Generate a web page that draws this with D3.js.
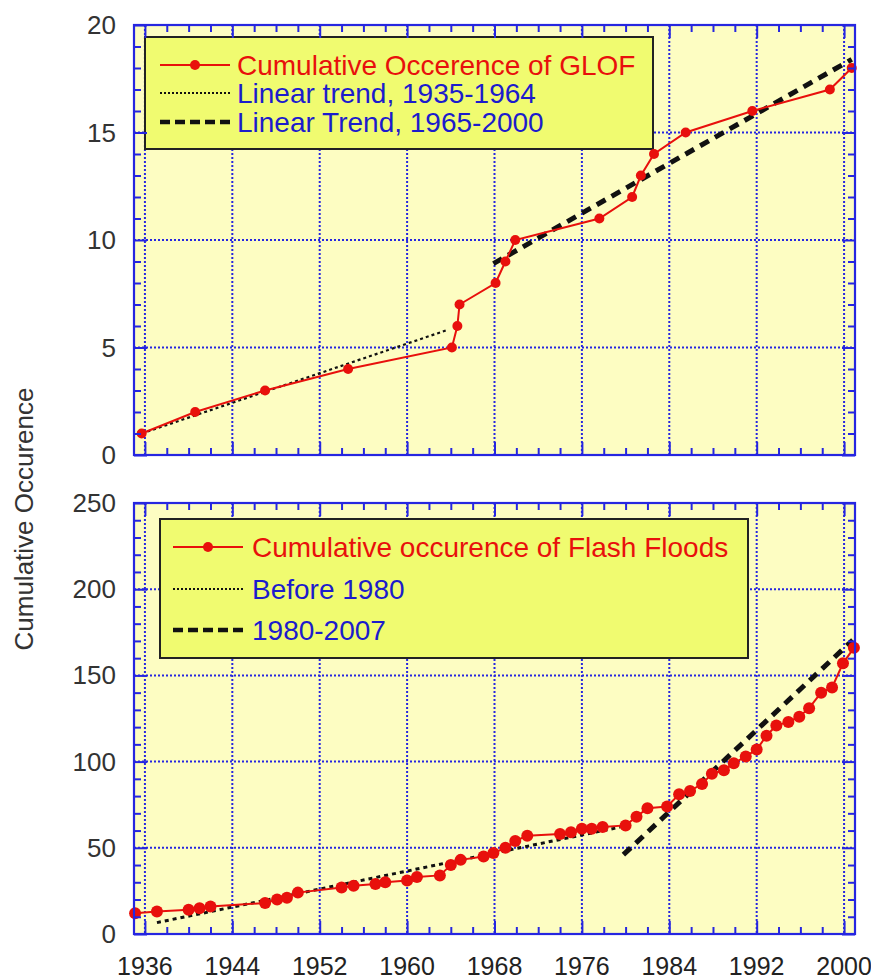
<!DOCTYPE html>
<html>
<head>
<meta charset="utf-8">
<script src="https://cdn.jsdelivr.net/npm/d3@7"></script>
<style>
  body { margin: 0; background: #fff; }
  text { font-family: "Liberation Sans", Arial, sans-serif; }
</style>
</head>
<body>
<div id="chart"></div>
<script>
// ---- data ----
var glofYears = [1935.7, 1940.6, 1947.0, 1954.6, 1964.1, 1964.6, 1964.8, 1968.1, 1969.0, 1969.9,
                 1977.6, 1980.6, 1981.4, 1982.6, 1985.5, 1991.6, 1998.7, 2000.7];
var glofCount = [1, 2, 3, 4, 5, 6, 7, 8, 9, 10, 11, 12, 13, 14, 15, 16, 17, 18];
var glofTrendEarlyYears = [1935.7, 1963.6];
var glofTrendEarlyValues = [1.0, 5.8];
var glofTrendLateYears = [1967.9, 2000.7];
var glofTrendLateValues = [8.9, 18.4];

var floodYears = [1935.1, 1937.1, 1940.0, 1941.0, 1942.0, 1947.0, 1948.1, 1949.0, 1950.0, 1954.0,
                  1955.1, 1957.1, 1958.0, 1960.0, 1960.9, 1963.0, 1964.0, 1964.9, 1967.0, 1967.9,
                  1969.0, 1969.9, 1971.0, 1974.0, 1975.0, 1976.0, 1976.9, 1977.9, 1980.0, 1981.0,
                  1982.0, 1983.8, 1984.9, 1985.9, 1987.0, 1987.9, 1989.0, 1989.9, 1991.0, 1992.0,
                  1992.9, 1993.8, 1994.9, 1995.9, 1996.8, 1997.9, 1998.9, 1999.9, 2000.9];
var floodCount = [12, 13, 14, 15, 16, 18, 20, 21, 24, 27,
                  28, 29, 30, 31, 33, 34, 40, 43, 45, 47,
                  50, 54, 57, 58, 59, 61, 61, 62, 63, 68,
                  73, 74, 81, 83, 87, 93, 95, 99, 103, 107,
                  115, 121, 123, 126, 131, 140, 143, 157, 166];
var floodTrendEarlyYears = [1937.1, 1979.5];
var floodTrendEarlyValues = [6.6, 62];
var floodTrendLateYears = [1979.8, 2000.8];
var floodTrendLateValues = [46, 170.5];

var yearTicks = [1936, 1944, 1952, 1960, 1968, 1976, 1984, 1992, 2000];
var glofTicks = [0, 5, 10, 15, 20];
var floodTicks = [0, 50, 100, 150, 200, 250];

var glofLegend = ['Cumulative Occerence of GLOF', 'Linear trend, 1935-1964', 'Linear Trend, 1965-2000'];
var floodLegend = ['Cumulative occurence of Flash Floods', 'Before 1980', '1980-2007'];
var yTitle = 'Cumulative Occurence';

// ---- drawing ----
var W = 871, H = 979;
var RED = '#e8100c', BLUE = '#2626e0', TXTBLUE = '#1c1ccc';
var svg = d3.select('#chart').append('svg').attr('width', W).attr('height', H);

var x = d3.scaleLinear().domain([1935, 2001]).range([134, 855]);
var xMinor = d3.range(1936, 2001, 2).filter(function(d){ return (d - 1936) % 8 !== 0; });

function panel(y, majors, minorStep, opts){
  var g = svg.append('g');
  var x0 = x.range()[0], x1 = x.range()[1];
  var y0 = y.range()[0], y1 = y.range()[1];
  var yMinor = d3.range(y.domain()[0], y.domain()[1] + 1e-9, minorStep)
    .filter(function(d){ return majors.indexOf(d) < 0; });

  g.append('rect').attr('x', x0).attr('y', y1).attr('width', x1 - x0).attr('height', y0 - y1)
    .attr('fill', '#fdfdc2');

  // dotted grid
  g.selectAll('.gx').data(yearTicks).enter().append('line')
    .attr('x1', x).attr('x2', x).attr('y1', y1).attr('y2', y0)
    .attr('stroke', BLUE).attr('stroke-width', 2).attr('stroke-dasharray', '2,2');
  g.selectAll('.gy').data(majors.slice(1, -1)).enter().append('line')
    .attr('x1', x0).attr('x2', x1).attr('y1', y).attr('y2', y)
    .attr('stroke', BLUE).attr('stroke-width', 2).attr('stroke-dasharray', '2,2');

  // legend box
  var L = opts.legend;
  g.append('rect').attr('x', L.x).attr('y', L.y).attr('width', L.w).attr('height', L.h)
    .attr('fill', '#f0fb70').attr('stroke', '#222').attr('stroke-width', 2);
  var styles = [
    {stroke: RED, w: 2, dash: null, col: RED, marker: true},
    {stroke: '#111', w: 1.8, dash: '2,2', col: TXTBLUE},
    {stroke: '#111', w: 4.5, dash: '10,5', col: TXTBLUE}
  ];
  opts.labels.forEach(function(lab, i){
    var cy = L.rows[i], s = styles[i];
    g.append('line').attr('x1', L.sx0).attr('x2', L.sx1).attr('y1', cy).attr('y2', cy)
      .attr('stroke', s.stroke).attr('stroke-width', s.w).attr('stroke-dasharray', s.dash);
    if (s.marker) g.append('circle').attr('cx', (L.sx0 + L.sx1) / 2).attr('cy', cy).attr('r', 5).attr('fill', RED);
    g.append('text').attr('x', L.tx).attr('y', cy + 10).attr('fill', s.col)
      .attr('font-size', 28).text(lab);
  });

  // trends
  var line = d3.line().x(function(d){ return x(d[0]); }).y(function(d){ return y(d[1]); });
  g.append('path').datum(d3.zip(opts.t1x, opts.t1y)).attr('d', line)
    .attr('fill', 'none').attr('stroke', '#111').attr('stroke-width', opts.dotW).attr('stroke-dasharray', opts.dotDash);
  g.append('path').datum(d3.zip(opts.t2x, opts.t2y)).attr('d', line)
    .attr('fill', 'none').attr('stroke', '#111').attr('stroke-width', 5).attr('stroke-dasharray', '10,7');

  // data
  var pts = d3.zip(opts.xs, opts.ys);
  g.append('path').datum(pts).attr('d', line)
    .attr('fill', 'none').attr('stroke', RED).attr('stroke-width', 2);
  g.selectAll('.pt').data(pts).enter().append('circle')
    .attr('cx', function(d){ return x(d[0]); }).attr('cy', function(d){ return y(d[1]); })
    .attr('r', opts.r).attr('fill', RED);

  // inward ticks on all four sides via d3 axes
  function ax(gen, tx, ty, vals, size){
    var a = g.append('g').attr('transform', 'translate(' + tx + ',' + ty + ')')
      .call(gen.tickValues(vals).tickSize(size).tickFormat(''));
    a.select('.domain').remove();
    a.selectAll('line').attr('stroke', BLUE).attr('stroke-width', 2);
    return a;
  }
  ax(d3.axisBottom(x), 0, y0, yearTicks, -13);
  ax(d3.axisBottom(x), 0, y0, xMinor, -7);
  ax(d3.axisTop(x), 0, y1, yearTicks, -13);
  ax(d3.axisTop(x), 0, y1, xMinor, -7);
  ax(d3.axisLeft(y), x0, 0, majors, -13);
  ax(d3.axisLeft(y), x0, 0, yMinor, -7);
  ax(d3.axisRight(y), x1, 0, majors, -13);
  ax(d3.axisRight(y), x1, 0, yMinor, -7);

  g.append('rect').attr('x', x0).attr('y', y1).attr('width', x1 - x0).attr('height', y0 - y1)
    .attr('fill', 'none').attr('stroke', BLUE).attr('stroke-width', 2.2);

  // y labels
  g.selectAll('.yl').data(majors).enter().append('text')
    .attr('x', 116).attr('y', function(d){ return y(d) + 9; })
    .attr('text-anchor', 'end').attr('font-size', 26).attr('fill', '#333')
    .text(function(d){ return d; });

  if (opts.xLabels){
    g.selectAll('.xl').data(yearTicks).enter().append('text')
      .attr('x', x).attr('y', 975)
      .attr('text-anchor', 'middle').attr('font-size', 25).attr('fill', '#222')
      .text(function(d){ return d; });
  }
}

panel(d3.scaleLinear().domain([0, 20]).range([455, 25]), glofTicks, 1, {
  xs: glofYears, ys: glofCount, r: 5,
  t1x: glofTrendEarlyYears, t1y: glofTrendEarlyValues, dotW: 2.2, dotDash: '3,3',
  t2x: glofTrendLateYears, t2y: glofTrendLateValues,
  labels: glofLegend,
  legend: {x: 145, y: 37, w: 508, h: 112, rows: [65, 93, 122], sx0: 160, sx1: 230, tx: 237},
  xLabels: false
});

panel(d3.scaleLinear().domain([0, 250]).range([934, 503]), floodTicks, 10, {
  xs: floodYears, ys: floodCount, r: 6,
  t1x: floodTrendEarlyYears, t1y: floodTrendEarlyValues, dotW: 3, dotDash: '4,4',
  t2x: floodTrendLateYears, t2y: floodTrendLateValues,
  labels: floodLegend,
  legend: {x: 160, y: 519, w: 588, h: 139, rows: [547, 589, 630], sx0: 173, sx1: 243, tx: 252},
  xLabels: true
});

svg.append('text')
  .attr('transform', 'translate(33,519) rotate(-90)')
  .attr('text-anchor', 'middle').attr('font-size', 26).attr('fill', '#333')
  .text(yTitle);
</script>
</body>
</html>
